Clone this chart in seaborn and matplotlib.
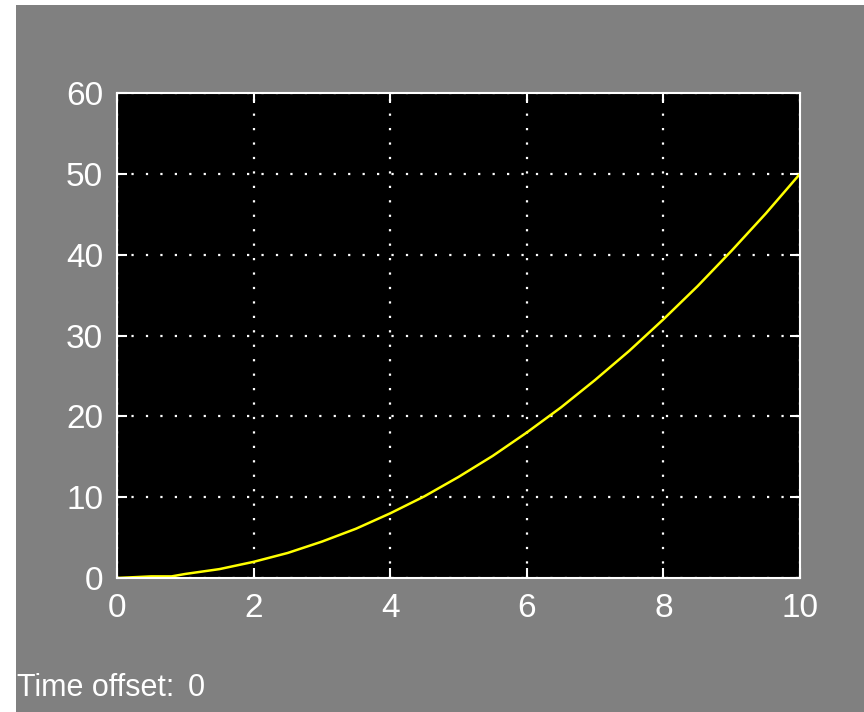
import numpy as np
import pandas as pd
import matplotlib
matplotlib.use("Agg")
import matplotlib.pyplot as plt
import seaborn as sns
from matplotlib.patches import Rectangle

# values
t_vals = [0, 0.5, 0.8, 1.0, 1.5, 2.0, 2.5, 3.0, 3.5, 4.0, 4.5, 5.0,
          5.5, 6.0, 6.5, 7.0, 7.5, 8.0, 8.5, 9.0, 9.5, 10.0]
y_vals = [0, 0.2, 0.2, 0.5, 1.1, 2.0, 3.1, 4.5, 6.1, 8.0, 10.1, 12.5,
          15.1, 18.0, 21.1, 24.5, 28.1, 32.0, 36.1, 40.5, 45.1, 50.0]
x_ticks = [0, 2, 4, 6, 8, 10]
y_ticks = [0, 10, 20, 30, 40, 50, 60]
offset_label = "Time offset:"
offset_value = "0"

df = pd.DataFrame({"t": t_vals, "y": y_vals})

sns.set_style("dark")
plt.rcParams['font.family'] = ['Liberation Sans', 'DejaVu Sans']

W, H = 864, 712
fig = plt.figure(figsize=(W / 100, H / 100), dpi=100, facecolor="white")
# gray scope panel, leaving the thin white strip at left and top
fig.add_artist(Rectangle((16 / W, 0), 1 - 16 / W, 1 - 5 / H,
                         transform=fig.transFigure, facecolor="#808080",
                         edgecolor="none", zorder=-10))

ax = fig.add_axes([117 / W, 1 - 578 / H, (800 - 117) / W, (578 - 93) / H])
ax.set_zorder(1)
ax.set_facecolor("black")

sns.lineplot(data=df, x="t", y="y", ax=ax, color="#ffff00", linewidth=1.8)

ax.set_xlim(0, 10)
ax.set_ylim(0, 60)
ax.set_xticks(x_ticks)
ax.set_yticks(y_ticks)
ax.set_xlabel("")
ax.set_ylabel("")

ax.grid(True, color="white", linestyle=(0, (1, 5.5)), linewidth=1.6)
for s in ax.spines.values():
    s.set_visible(True)
    s.set_color("white")
    s.set_linewidth(1.5)

ax.tick_params(direction="in", length=7, width=1.5, color="white",
               top=True, right=True, bottom=True, left=True,
               labelcolor="white", labelsize=24)
ax.tick_params(axis="x", pad=11)
ax.tick_params(axis="y", pad=10)

fig.text(17 / W, 1 - 696 / H, offset_label, color="white", fontsize=22,
         ha="left", va="baseline")
fig.text(188 / W, 1 - 696 / H, offset_value, color="white", fontsize=22,
         ha="left", va="baseline")

fig.savefig("out.png", dpi=100, facecolor=fig.get_facecolor())
